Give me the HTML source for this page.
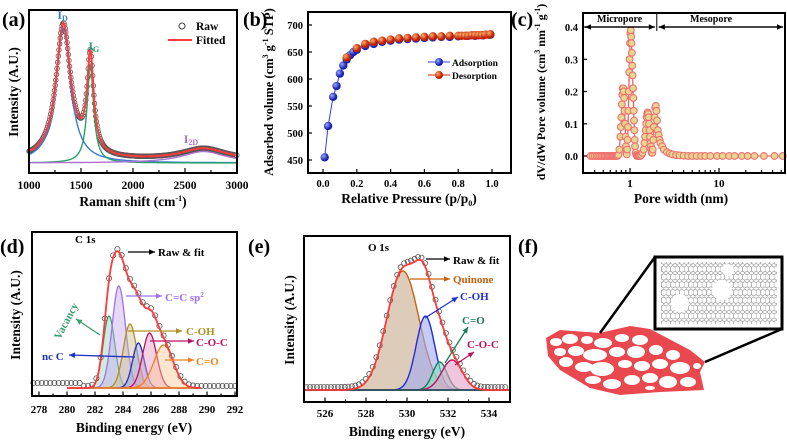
<!DOCTYPE html>
<html><head><meta charset="utf-8">
<style>
html,body{margin:0;padding:0;background:#fff;}
svg{display:block;font-family:"Liberation Serif",serif;font-weight:bold;}
</style></head>
<body>
<svg id="fig" width="787" height="443" viewBox="0 0 787 443" xmlns="http://www.w3.org/2000/svg">
<defs>
<pattern id="hex" width="9" height="7.8" patternUnits="userSpaceOnUse"><path d="M0,2 L2.25,0.5 L4.5,2 L4.5,5.8 L2.25,7.3 L0,5.8Z M4.5,2 L6.75,0.5 L9,2 M4.5,5.8 L6.75,7.3 L9,5.8" fill="none" stroke="#888" stroke-width="0.6"/></pattern>
<radialGradient id="ballB" cx="35%" cy="35%"><stop offset="0" stop-color="#9aa8ff"/><stop offset="1" stop-color="#1a22b0"/></radialGradient>
<radialGradient id="ballR" cx="35%" cy="35%"><stop offset="0" stop-color="#ffb070"/><stop offset="1" stop-color="#c02000"/></radialGradient>
</defs>
<g id="root"></g>
<g id="axes" fill="#000"></g>
</svg>
<script>
// ---------- DATA ----------
const ramanCenters=[1330,1590,2680];
const ramanHeights=[1.0,0.72,0.085];
const ramanWidths=[85,38,260];
const ramanNames=['D','G','2D'];
const ramanTicks=[1000,1500,2000,2500,3000];
const adsP=[0.01,0.03,0.06,0.08,0.10,0.12,0.14,0.16,0.18,0.20,0.25,0.30,0.35,0.40,0.45,0.50,0.55,0.60,0.65,0.70,0.75,0.80,0.85,0.90,0.95,0.99];
const adsV=[455,513,567,587,610,625,636,644,650,654,661,665,669,671,673,674,675,676,677,678,678,679,680,680,681,682];
const desP=[0.14,0.20,0.25,0.30,0.35,0.40,0.45,0.50,0.55,0.60,0.65,0.70,0.75,0.80,0.82,0.84,0.86,0.88,0.90,0.92,0.94,0.96,0.98,0.99];
const desV=[640,657,665,669,671,673,675,676,677,678,679,679,680,680,680,680,680,681,681,681,681,682,682,683];
const isoXTicks=[0,0.2,0.4,0.6,0.8,1.0];
const isoYTicks=[450,500,550,600,650,700];
const poreW=[0.36,0.38,0.40,0.42,0.44,0.46,0.48,0.50,0.52,0.54,0.56,0.58,0.60,0.62,0.64,0.66,0.68,0.70,0.72,0.74,0.76,0.78,0.79,0.80,0.81,0.82,0.83,0.84,0.85,0.86,0.87,0.88,0.89,0.90,0.91,0.92,0.93,0.94,0.95,0.96,0.97,0.98,0.99,1.00,1.01,1.02,1.03,1.04,1.05,1.06,1.07,1.08,1.09,1.10,1.11,1.12,1.13,1.14,1.16,1.18,1.20,1.23,1.26,1.30,1.34,1.38,1.42,1.45,1.48,1.50,1.52,1.54,1.56,1.58,1.60,1.62,1.64,1.66,1.68,1.70,1.72,1.74,1.76,1.78,1.80,1.83,1.86,1.89,1.92,1.95,1.98,2.01,2.05,2.10,2.15,2.2,2.3,2.4,2.6,2.8,3.0,3.3,3.6,4.0,4.5,5,5.6,6.3,7,8,9.5,11,13,15,18,21,25,32,42,52];
const poreV=[0,0,0,0,0,0,0,0,0,0,0,0,0,0,0,0,0,0,0,0.003,0.02,0.06,0.09,0.12,0.16,0.19,0.21,0.21,0.20,0.18,0.14,0.10,0.06,0.03,0.01,0.005,0.02,0.05,0.09,0.14,0.20,0.26,0.30,0.35,0.38,0.39,0.37,0.35,0.32,0.28,0.25,0.21,0.18,0.14,0.11,0.08,0.05,0.03,0.01,0.003,0,0,0,0,0.003,0.01,0.02,0.04,0.06,0.08,0.10,0.12,0.13,0.135,0.13,0.12,0.10,0.08,0.06,0.04,0.03,0.02,0.01,0.01,0.02,0.05,0.09,0.12,0.15,0.155,0.14,0.11,0.08,0.065,0.05,0.04,0.03,0.02,0.012,0.008,0.005,0.003,0.002,0.001,0,0,0,0,0,0,0,0,0,0,0,0,0,0,0,0];
const poreYTicks=[0,0.1,0.2,0.3,0.4];
const c1sNames=['Vacancy','C=C sp2','C-OH','nc C','C-O-C','C=O'];
const c1sCenters=[283.0,283.7,284.5,285.1,285.9,286.9];
const c1sHeights=[72,102,64,45,55,43];
const c1sSigmas=[0.42,0.48,0.48,0.42,0.5,0.7];
const c1sTicks=[278,280,282,284,286,288,290,292];
const o1sNames=['Quinone','C-OH','C=O','C-O-C'];
const o1sCenters=[529.8,530.9,531.6,532.2];
const o1sHeights=[119,74,28,30];
const o1sSigmas=[0.78,0.45,0.35,0.5];
const o1sTicks=[526,528,530,532,534];

// ---------- helpers ----------
const NS='http://www.w3.org/2000/svg';
const root=document.getElementById('root');
const axes=document.getElementById('axes');
function mk(tag,attrs,parent,text){const e=document.createElementNS(NS,tag);for(const k in attrs)e.setAttribute(k,attrs[k]);if(text!==undefined)e.textContent=text;(parent||root).appendChild(e);return e;}
function lin(d0,d1,r0,r1){return v=>r0+(v-d0)*(r1-r0)/(d1-d0);}
function box(x,y,w,h){mk('rect',{x:x.toFixed(1),y:y.toFixed(1),width:w.toFixed(1),height:h.toFixed(1),fill:'#000'},axes);}
function frame(name,x0,y0,x1,y1){
  const g=mk('g',{},axes);
  [[x0-1,y0-1,x1-x0+2,2],[x0-1,y1-1,x1-x0+2,2],[x0-1,y0-1,2,y1-y0+2],[x1-1,y0-1,2,y1-y0+2]].forEach(r=>mk('rect',{x:r[0],y:r[1],width:r[2],height:r[3],fill:'#000'},g));
}
function vtick(x,y,len){box(x-0.6,y-len,1.2,len);}
function htick(x,y,len){box(x,y-0.6,len,1.2);}
function gauss(x,c,h,s){return h*Math.exp(-(x-c)*(x-c)/(2*s*s));}
function lor(x,c,h,w){return h/(1+((x-c)/w)*((x-c)/w));}
function panelLabel(t,x,y){const e=mk('text',{x,y,'font-size':20},root,t);}
function ytitle(g,t,x,y,size){const e=mk('text',{x,y,'font-size':size||13,'text-anchor':'middle',transform:`rotate(-90 ${x} ${y})`},g);e.innerHTML=t;return e;}
function xtitle(g,t,x,y){const e=mk('text',{x,y,'font-size':13.5,'text-anchor':'middle'},g);e.innerHTML=t;return e;}
function path(pts){return pts.map((p,i)=>(i?'L':'M')+p[0].toFixed(1)+','+p[1].toFixed(1)).join('');}
function ann(g,t,x,y,color,size,name){const e=mk('text',{x,y,'font-size':size||11,fill:color},g);e.innerHTML=t;return e;}
function arrow(g,x1,y1,x2,y2,color){
  const l=mk('line',{x1,y1,x2,y2,stroke:color,'stroke-width':1.3},g);
  const a=Math.atan2(y2-y1,x2-x1),L=6,W=2.8;
  const p=[[x2,y2],[x2-L*Math.cos(a)+W*Math.sin(a),y2-L*Math.sin(a)-W*Math.cos(a)],[x2-L*Math.cos(a)-W*Math.sin(a),y2-L*Math.sin(a)+W*Math.cos(a)]];
  mk('path',{d:path(p)+'Z',fill:color},g);
}

// ---------- (a) Raman ----------
(function(){
const g=mk('g',{});
const X0=29,X1=237,Y0=10,Y1=173;
const xs=lin(1000,3000,X0,X1), ys=lin(0,1,163,28);
const cols=['#3b7ad6','#2aa06a','#b070d0'];
const fit=x=>ramanCenters.reduce((s,c,i)=>s+lor(x,c,ramanHeights[i],ramanWidths[i]),0)+0.02;
for(let x=1000;x<=3000;x+=6){const c=mk('circle',{cx:xs(x),cy:ys(fit(x)),r:2.3,fill:'#fff',stroke:'#555','stroke-width':0.8},g);}
ramanCenters.forEach((c,i)=>{const pts=[];for(let x=1000;x<=3000;x+=5)pts.push([xs(x),ys(lor(x,c,ramanHeights[i],ramanWidths[i]))]);
 const p=mk('path',{d:path(pts),fill:'none',stroke:cols[i],'stroke-width':1.4},g);});
const fp=[];for(let x=1000;x<=3000;x+=5)fp.push([xs(x),ys(fit(x))]);
const f=mk('path',{d:path(fp),fill:'none',stroke:'#ff3a3a','stroke-width':2},g);
frame('raman-frame',X0,Y0,X1,Y1);
for(let v=1000;v<=3000;v+=250){vtick(xs(v),Y1,v%500?3:5);}
ramanTicks.forEach(v=>{const t=mk('text',{x:xs(v),y:189,'font-size':11.5,'text-anchor':'middle'},g,v);});
xtitle(g,'Raman shift (cm<tspan dy="-5" font-size="8">-1</tspan><tspan dy="5">)</tspan>',133,206);
ytitle(g,'Intensity (A.U.)',18,92,13.5);
ann(g,'I<tspan font-size="8" dy="2">D</tspan>',xs(ramanCenters[0])-6,19,'#3b7ad6',12,'label-id');
ann(g,'I<tspan font-size="8" dy="2">G</tspan>',xs(ramanCenters[1])-2,50,'#2aa06a',12,'label-ig');
ann(g,'I<tspan font-size="8" dy="2">2D</tspan>',xs(ramanCenters[2])-20,143,'#b070d0',12,'label-i2d');
mk('circle',{cx:182,cy:26,r:3,fill:'#fff',stroke:'#444','stroke-width':1},g);
ann(g,'Raw',196,30,'#000',11.5,'legend-raw');
mk('line',{x1:168,y1:40,x2:192,y2:40,stroke:'#ff3a3a','stroke-width':2},g);
ann(g,'Fitted',196,44,'#000',11.5,'legend-fitted');
})();

// ---------- (b) Isotherm ----------
(function(){
const g=mk('g',{});
const X0=308,X1=511,Y0=12,Y1=173;
const xs=lin(0,1,323,492), ys=lin(450,700,160,25);
mk('path',{d:path(adsP.map((p,i)=>[xs(p),ys(adsV[i])])),fill:'none',stroke:'#3344dd','stroke-width':1},g);
mk('path',{d:path(desP.map((p,i)=>[xs(p),ys(desV[i])])),fill:'none',stroke:'#cc2200','stroke-width':1},g);
adsP.forEach((p,i)=>{const c=mk('circle',{cx:xs(p),cy:ys(adsV[i]),r:4.2,fill:'url(#ballB)'},g);});
desP.forEach((p,i)=>{const c=mk('circle',{cx:xs(p),cy:ys(desV[i]),r:4.2,fill:'url(#ballR)'},g);});
frame('isotherm-frame',X0,Y0,X1,Y1);
isoXTicks.forEach(v=>{vtick(xs(v),Y1,4);const t=mk('text',{x:xs(v),y:187,'font-size':10.5,'text-anchor':'middle'},g,v.toFixed(1));});
isoYTicks.forEach(v=>{htick(X0,ys(v),4);const t=mk('text',{x:X0-5,y:ys(v)+4,'font-size':10.5,'text-anchor':'end'},g,v);});
xtitle(g,'Relative Pressure (p/p<tspan font-size="8" dy="3">0</tspan><tspan dy="-3">)</tspan>',409,203);
ytitle(g,'Adsorbed volume (cm<tspan dy="-5" font-size="8">3</tspan><tspan dy="5"> g</tspan><tspan dy="-5" font-size="8">-1</tspan><tspan dy="5"> STP)</tspan>',273,92,12.5);
mk('line',{x1:428,y1:62,x2:450,y2:62,stroke:'#3344dd'},g);mk('circle',{cx:439,cy:62,r:4,fill:'url(#ballB)'},g);
ann(g,'Adsorption',452,66,'#000',9.5,'legend-adsorption');
mk('line',{x1:428,y1:75,x2:450,y2:75,stroke:'#cc2200'},g);mk('circle',{cx:439,cy:75,r:4,fill:'url(#ballR)'},g);
ann(g,'Desorption',452,79,'#000',9.5,'legend-desorption');
})();

// ---------- (c) Pore size ----------
(function(){
const g=mk('g',{});
const X0=583,X1=785,Y0=13,Y1=173;
const xs=v=>630+Math.log10(v)*89, ys=lin(0,0.4,156,27);
mk('path',{d:path(poreW.map((w,i)=>[xs(w),ys(poreV[i])])),fill:'none',stroke:'#f06060','stroke-width':1.3},g);
poreW.forEach((w,i)=>{const c=mk('circle',{cx:xs(w),cy:ys(poreV[i]),r:3.4,fill:'#e6d690',stroke:'#f07070','stroke-width':1.1},g);});
frame('pore-frame',X0,Y0,X1,Y1);
[0.4,0.5,0.6,0.7,0.8,0.9,1,2,3,4,5,6,7,8,9,10,20,30,40,50].forEach(v=>{const major=(v==1||v==10);vtick(xs(v),Y1,major?5:3);});
[1,10].forEach(v=>{const t=mk('text',{x:xs(v),y:187,'font-size':11,'text-anchor':'middle'},g,v);});
poreYTicks.forEach(v=>{htick(X0,ys(v),4);const t=mk('text',{x:X0-5,y:ys(v)+4,'font-size':10.5,'text-anchor':'end'},g,v.toFixed(1));});
xtitle(g,'Pore width (nm)',681,203);
ytitle(g,'dV/dW Pore volume (cm<tspan dy="-5" font-size="8">3</tspan><tspan dy="5"> nm</tspan><tspan dy="-5" font-size="8">-1</tspan><tspan dy="5"> g</tspan><tspan dy="-5" font-size="8">-1</tspan><tspan dy="5">)</tspan>',545,92,12);
const ya=27, xm=xs(2);
arrow(g,xm-2,ya,X0+2,ya,'#000');arrow(g,X0+2,ya,xm-2,ya,'#000');
arrow(g,X1-2,ya,xm+2,ya,'#000');arrow(g,xm+2,ya,X1-2,ya,'#000');
box(xm-0.5,Y0,1,ya+4-Y0);
ann(g,'Micropore',597,22,'#000',10,'micropore-label');
ann(g,'Mesopore',690,22,'#000',10,'mesopore-label');
})();

// ---------- (d) C1s ----------
(function(){
const g=mk('g',{});
const X0=32,X1=237,Y0=232,Y1=396;
const xs=lin(278,292,39,235), ys=lin(0,100,388,288);
const cols=['#3a9e6e','#a070f0','#b09020','#2030c0','#c01060','#f08020'];
const fills=['rgba(150,210,180,.45)','rgba(200,170,240,.45)','rgba(200,190,140,.45)','rgba(150,160,230,.45)','rgba(230,150,190,.45)','rgba(250,200,150,.45)'];
const fit=x=>c1sCenters.reduce((s,c,i)=>s+gauss(x,c,c1sHeights[i],c1sSigmas[i]),0);
c1sCenters.forEach((c,i)=>{const pts=[];for(let x=280;x<=289.6;x+=0.05)pts.push([xs(x),ys(gauss(x,c,c1sHeights[i],c1sSigmas[i]))]);
 const p=mk('path',{d:path(pts)+'Z',fill:fills[i],stroke:cols[i],'stroke-width':1.3},g);});
mk('line',{x1:xs(280),y1:ys(0),x2:xs(289.6),y2:ys(0),stroke:'#f08020','stroke-width':1.5},g);
for(let x=277.6;x<=292.2;x+=0.3){const raw=fit(x)+(x<281?3:0)+2;const c=mk('circle',{cx:xs(x),cy:ys(raw),r:2.6,fill:'none',stroke:'#555','stroke-width':0.8},g);}
const fp=[];for(let x=280;x<=289.6;x+=0.05)fp.push([xs(x),ys(fit(x))]);
const f=mk('path',{d:path(fp),fill:'none',stroke:'#ff3a3a','stroke-width':1.8},g);
frame('c1s-frame',X0,Y0,X1,Y1);
c1sTicks.forEach(v=>{vtick(xs(v),Y1,4.5);if(v<292)vtick(xs(v+1),Y1,2.5);const t=mk('text',{x:xs(v),y:413,'font-size':11,'text-anchor':'middle'},g,v);});
xtitle(g,'Binding energy (eV)',134,432);
ytitle(g,'Intensity (A.U.)',20,315,13.5);
ann(g,'C 1s',75,243,'#000',11,'c1s-label');
arrow(g,128,252,155,252,'#000');ann(g,'Raw &amp; fit',158,256,'#000',11,'raw-fit-label');
arrow(g,126,296,162,296,'#a070f0');ann(g,'C=C sp<tspan font-size="7" dy="-4">2</tspan>',165,301,'#a070f0',11,'label-sp2');
arrow(g,128,331,182,331,'#b09020');ann(g,'C-OH',186,335,'#b09020',11,'label-coh');
arrow(g,150,341,194,341,'#c01060');ann(g,'C-O-C',196,346,'#c01060',11,'label-coc');
arrow(g,165,360,194,360,'#f08020');ann(g,'C=O',196,365,'#f08020',11,'label-co');
arrow(g,135,357,69,355,'#2030c0');ann(g,'nc C',42,360,'#2030c0',11,'label-ncc');
arrow(g,100,335,76,319,'#3a9e6e');
const v=ann(g,'Vacancy',60,340,'#3a9e6e',11,'label-vacancy');v.setAttribute('transform','rotate(-62 60 340)');
})();

// ---------- (e) O1s ----------
(function(){
const g=mk('g',{});
const X0=304,X1=510,Y0=236,Y1=402;
const xs=lin(526,534,325,489), ys=lin(0,100,390,290);
const cols=['#c86010','#2030d0','#1a7a5a','#c01060'];
const fills=['rgba(200,170,140,.6)','rgba(160,170,240,.6)','rgba(130,230,190,.6)','rgba(230,160,200,.6)'];
const fit=x=>o1sCenters.reduce((s,c,i)=>s+gauss(x,c,o1sHeights[i],o1sSigmas[i]),0);
o1sCenters.forEach((c,i)=>{const pts=[];for(let x=525;x<=535;x+=0.05)pts.push([xs(x),ys(gauss(x,c,o1sHeights[i],o1sSigmas[i]))]);
 const p=mk('path',{d:path(pts)+'Z',fill:fills[i],stroke:cols[i],'stroke-width':1.4},g);});
mk('line',{x1:X0,y1:ys(0),x2:X1,y2:ys(0),stroke:'#1a5a5a','stroke-width':1.5},g);
for(let x=525.1;x<=534.9;x+=0.17){const c=mk('circle',{cx:xs(x),cy:ys(fit(x)+3),r:2.5,fill:'none',stroke:'#555','stroke-width':0.8},g);}
const fp=[];for(let x=525;x<=535;x+=0.05)fp.push([xs(x),ys(fit(x))]);
const f=mk('path',{d:path(fp),fill:'none',stroke:'#ff3a3a','stroke-width':1.8},g);
frame('o1s-frame',X0,Y0,X1,Y1);
o1sTicks.forEach(v=>{vtick(xs(v),Y1,4.5);vtick(xs(v+1),Y1,2.5);const t=mk('text',{x:xs(v),y:417,'font-size':11,'text-anchor':'middle'},g,v);});
xtitle(g,'Binding energy (eV)',407,436);
ytitle(g,'Intensity (A.U.)',294,320,13.5);
ann(g,'O 1s',368,251,'#000',11,'o1s-label');
arrow(g,426,259,450,259,'#000');ann(g,'Raw &amp; fit',453,264,'#000',11,'raw-fit-label');
arrow(g,410,279,450,279,'#c86010');ann(g,'Quinone',453,283,'#c86010',11,'label-quinone');
arrow(g,425,318,458,297,'#2030d0');ann(g,'C-OH',460,300,'#2030d0',11,'label-coh');
arrow(g,445,363,468,327,'#1a7a5a');ann(g,'C=O',462,324,'#1a7a5a',11,'label-co');
arrow(g,455,365,474,352,'#c01060');ann(g,'C-O-C',467,348,'#c01060',11,'label-coc');
})();

// ---------- (f) schematic ----------
(function(){
const g=mk('g',{});
const s=mk('path',{d:'M546,338 L560,330 L600,333 L630,326 L650,329 L690,350 L705,362 L700,372 L704,390 L660,392 L620,395 L590,388 L560,370 L548,356 Z',fill:'#e8484e'},g);

const holes=[[556,342,6,4],[570,339,8,5],[587,340,6,4],[603,343,9,5],[622,338,7,4],[640,340,8,5],[560,352,6,4],[576,351,8,5],[595,355,12,6],[617,352,8,5],[636,352,9,6],[656,350,7,5],[673,355,7,5],[566,362,7,5],[584,367,9,5],[602,369,12,7],[625,364,7,4],[642,366,8,5],[660,364,8,5],[680,368,10,6],[697,366,4,3],[593,380,8,4],[612,384,9,5],[632,380,8,5],[650,378,8,5],[668,382,9,6],[688,382,8,5],[650,388,5,2]];
holes.forEach(h=>mk('ellipse',{cx:h[0],cy:h[1],rx:h[2],ry:h[3],fill:'#fff'},g));
mk('line',{x1:600,y1:333,x2:655,y2:257,stroke:'#000','stroke-width':2.5},g);
mk('line',{x1:705,y1:362,x2:782,y2:329,stroke:'#000','stroke-width':2.5},g);
const bx=mk('rect',{x:655,y:257,width:127,height:72,fill:'#fff',stroke:'#000','stroke-width':3},g);

mk('rect',{x:661,y:262,width:116,height:62,fill:'url(#hex)'},g);
[[680,303,9,9],[722,290,10,10],[728,270,6,6]].forEach(h=>mk('ellipse',{cx:h[0],cy:h[1],rx:h[2],ry:h[3],fill:'#fff'},g));
})();

panelLabel('(a)',2,26);panelLabel('(b)',243,26);panelLabel('(c)',511,26);
panelLabel('(d)',0,253);panelLabel('(e)',248,253);panelLabel('(f)',518,253);
</script>
</body></html>
